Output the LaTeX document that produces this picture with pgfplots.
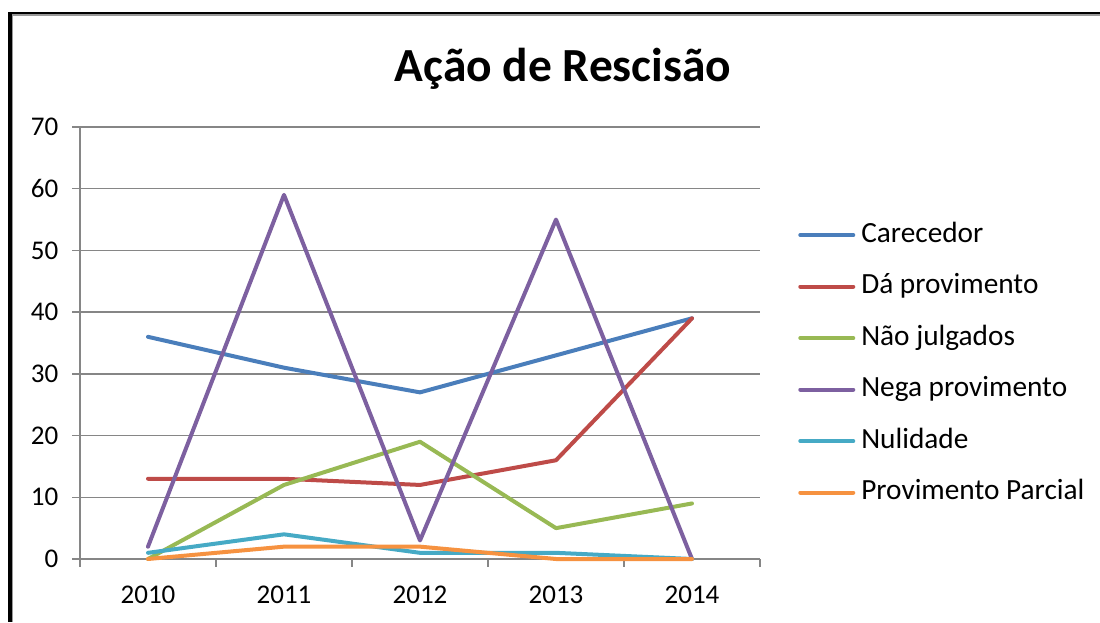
\documentclass[border=0pt]{standalone}
\usepackage{fontspec}
\setmainfont{Carlito}
\usepackage{pgfplots}
\pgfplotsset{compat=1.18}
\definecolor{cBlue}{HTML}{4A7EBB}
\definecolor{cRed}{HTML}{BE4B48}
\definecolor{cGreen}{HTML}{98B954}
\definecolor{cPurple}{HTML}{7D60A0}
\definecolor{cTeal}{HTML}{46AAC5}
\definecolor{cOrange}{HTML}{F69240}
\definecolor{cGrid}{HTML}{868686}
\begin{document}
\begin{tikzpicture}
\useasboundingbox (0,0) rectangle (1100pt,622pt);
\fill[black] (8pt,0) rectangle (11.7pt,610.3pt);
\fill[black] (8pt,607.7pt) rectangle (1100pt,610.3pt);
\fill[gray!80] (11.7pt,0) rectangle (13.3pt,607.7pt);
\fill[gray!80] (11.7pt,606.3pt) rectangle (1100pt,607.7pt);
\node[font=\bfseries\fontsize{47.5}{52}\selectfont, anchor=base] at (563pt,540pt) {Ação de Rescisão};
\begin{axis}[
  at={(80pt,63pt)}, anchor=south west,
  width=680pt, height=432pt, scale only axis,
  xmin=-0.5, xmax=4.5, ymin=0, ymax=70,
  axis x line=bottom, axis y line=left,
  axis line style={draw=cGrid, line width=1.3pt, -},
  ytick={0,10,...,70},
  ymajorgrids, grid style={draw=cGrid, line width=1.3pt},
  ytick style={draw=cGrid, line width=1.3pt},
  xtick style={draw=cGrid, line width=1.3pt},
  tick align=outside,
  major tick length=7.5pt,
  xtick={-0.5,0.5,1.5,2.5,3.5,4.5},
  xticklabels={},
  extra x ticks={0,1,2,3,4},
  extra x tick labels={2010,2011,2012,2013,2014},
  extra x tick style={major tick length=0pt, grid=none},
  /pgf/number format/assume math mode=true,
  tick label style={font=\fontsize{27}{30}\selectfont},
  yticklabel style={anchor=east, inner sep=0pt, xshift=-14pt},
  xticklabel style={anchor=base, inner sep=0pt, yshift=-44pt},
  legend style={at={(rel axis cs:1.056,0.453)}, anchor=west, draw=none, fill=none,
    font=\fontsize{29.3}{34}\selectfont, inner sep=0pt,
    row sep=22.5pt,
    nodes={inner sep=0pt, anchor=base west, text height=22pt, text depth=7pt}},
  legend cell align=left,
  legend image code/.code={\draw[#1, line width=4pt, line cap=round] (1pt,7pt) -- (54pt,7pt);},
  every axis plot/.append style={line width=4pt, line join=round, line cap=round},
  clip=false,
]
\addplot[cBlue] coordinates {(0,36) (1,31) (2,27) (3,33) (4,39)};
\addlegendentry{\hspace{6pt}Carecedor}
\addplot[cRed] coordinates {(0,13) (1,13) (2,12) (3,16) (4,39)};
\addlegendentry{\hspace{6pt}Dá provimento}
\addplot[cGreen] coordinates {(0,0) (1,12) (2,19) (3,5) (4,9)};
\addlegendentry{\hspace{6pt}Não julgados}
\addplot[cPurple] coordinates {(0,2) (1,59) (2,3) (3,55) (4,0)};
\addlegendentry{\hspace{6pt}Nega provimento}
\addplot[cTeal] coordinates {(0,1) (1,4) (2,1) (3,1) (4,0)};
\addlegendentry{\hspace{6pt}Nulidade}
\addplot[cOrange] coordinates {(0,0) (1,2) (2,2) (3,0) (4,0)};
\addlegendentry{\hspace{6pt}Provimento Parcial}
\end{axis}
\end{tikzpicture}
\end{document}
